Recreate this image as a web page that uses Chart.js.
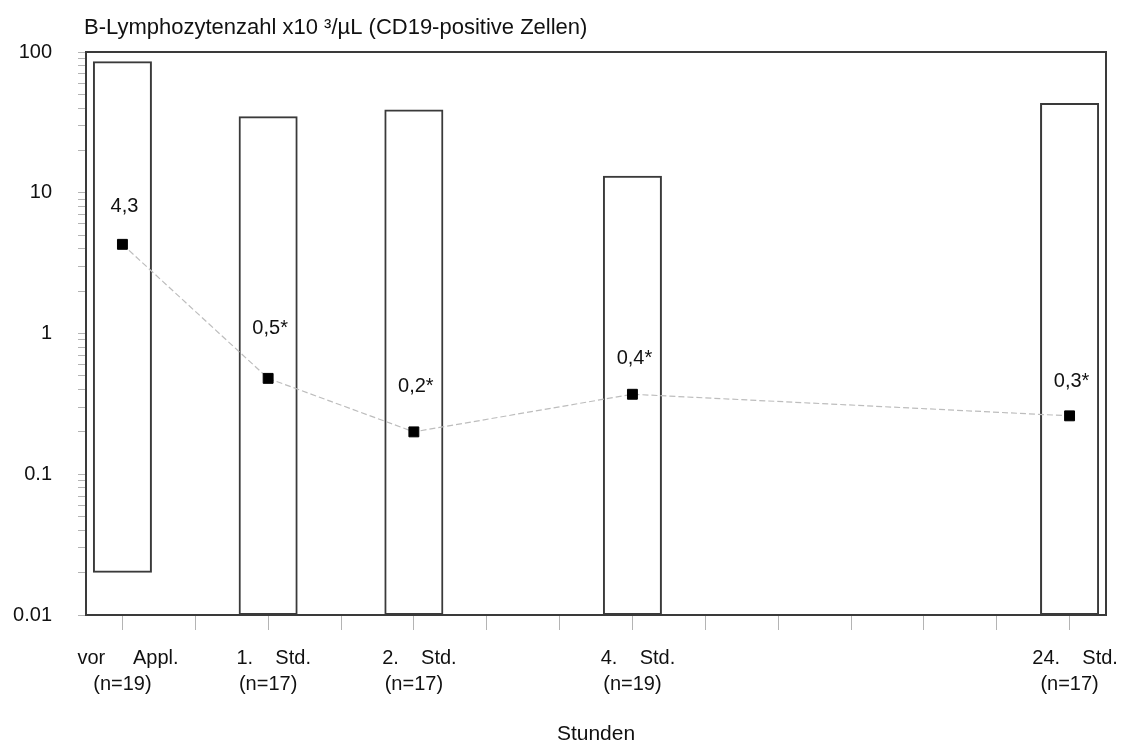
<!DOCTYPE html>
<html lang="de">
<head>
<meta charset="utf-8">
<title>B-Lymphozytenzahl</title>
<script src="https://cdn.jsdelivr.net/npm/chart.js@4.4.1/dist/chart.umd.min.js"></script>
<style>
  html, body { margin: 0; padding: 0; background: #fff; }
</style>
</head>
<body>
<canvas id="lymphChart" width="1123" height="745"></canvas>
<script>
// x slots: only a few carry a measurement time
const categories = [
  ["  vor     Appl.", "(n=19)"], "", ["  1.    Std.", "(n=17)"], "", ["  2.    Std.", "(n=17)"], "", "",
  ["  4.    Std.", "(n=19)"], "", "", "", "", "", ["  24.    Std.", "(n=17)"]
];
// range bars (min / max)
const rangeMin = [0.02, null, 0.01, null, 0.01, null, null, 0.01, null, null, null, null, null, 0.01];
const rangeMax = [86, null, 35, null, 39, null, null, 13.2, null, null, null, null, null, 43.5];
// median points + their printed labels
const medians = [4.3, null, 0.48, null, 0.2, null, null, 0.37, null, null, null, null, null, 0.26];
const medianLabels = ["4,3", "", "0,5*", "", "0,2*", "", "", "0,4*", "", "", "", "", "", "0,3*"];
const yMajorTicks = [0.01, 0.1, 1, 10, 100];

const FONT = "'Liberation Sans', Arial, sans-serif";
Chart.defaults.font.family = FONT;
Chart.defaults.color = "#111";

const frame = {
  id: "frame",
  afterDatasetsDraw(chart) {
    const { ctx, chartArea: a } = chart;
    ctx.save();
    ctx.strokeStyle = "#3a3a3a";
    ctx.lineWidth = 2;
    ctx.strokeRect(a.left, a.top, a.right - a.left, a.bottom - a.top);
    ctx.restore();
  }
};

const headline = {
  id: "headline",
  afterDraw(chart) {
    const ctx = chart.ctx;
    ctx.save();
    ctx.font = "22px " + FONT;
    ctx.fillStyle = "#111";
    ctx.textAlign = "left";
    ctx.textBaseline = "middle";
    ctx.fillText("B-Lymphozytenzahl x10 \u00B3/\u00B5L (CD19-positive Zellen)", 84, 28);
    ctx.restore();
  }
};

const pointLabels = {
  id: "pointLabels",
  afterDatasetsDraw(chart, args, opts) {
    const ctx = chart.ctx;
    const meta = chart.getDatasetMeta(1);
    ctx.save();
    ctx.font = "20px " + FONT;
    ctx.fillStyle = "#111";
    ctx.textAlign = "center";
    ctx.textBaseline = "middle";
    meta.data.forEach((pt, i) => {
      if (medians[i] === null) return;
      ctx.fillText(medianLabels[i], pt.x + 2, pt.y - opts.lift[i]);
    });
    ctx.restore();
  }
};

function buildLogTicks(scale) {
  const ticks = [];
  for (let d = 0; d < yMajorTicks.length - 1; d++) {
    for (let k = 1; k <= 9; k++) {
      ticks.push({ value: +(k * yMajorTicks[d]).toPrecision(3) });
    }
  }
  ticks.push({ value: yMajorTicks[yMajorTicks.length - 1] });
  scale.ticks = ticks;
}

new Chart(document.getElementById("lymphChart"), {
  data: {
    labels: categories,
    datasets: [
      {
        type: "bar",
        order: 1,
        data: rangeMin.map((lo, i) => lo === null ? null : [lo, rangeMax[i]]),
        backgroundColor: "rgba(255,255,255,0)",
        borderColor: "#3a3a3a",
        borderWidth: 2,
        borderSkipped: false,
        barPercentage: 0.81,
        categoryPercentage: 1
      },
      {
        type: "line",
        order: 0,
        data: medians,
        spanGaps: true,
        borderColor: "#bdbdbd",
        borderWidth: 1.2,
        borderDash: [6, 3],
        pointStyle: "rect",
        pointRadius: 7,
        pointBackgroundColor: "#000",
        pointBorderColor: "#000",
        pointBorderWidth: 1
      }
    ]
  },
  options: {
    responsive: false,
    animation: false,
    layout: { padding: { top: 52, right: 17, bottom: 0, left: 0 } },
    plugins: {
      legend: { display: false },
      tooltip: { enabled: false },
      pointLabels: { lift: [38, 0, 50, 0, 45, 0, 0, 36, 0, 0, 0, 0, 0, 34] }
    },
    scales: {
      x: {
        offset: true,
        afterFit: s => { s.height = 130; s.paddingLeft = 0; s.paddingRight = 0; },
        grid: { drawOnChartArea: false, drawTicks: true, tickLength: 15, color: "#b4b4b4", offset: false },
        border: { display: false },
        ticks: { autoSkip: false, maxRotation: 0, padding: 15, font: { size: 20, lineHeight: 1.3 }, color: "#111" },
        title: { display: true, text: "Stunden", font: { size: 21, lineHeight: 1 }, padding: { top: 0, bottom: 0 }, color: "#111" }
      },
      y: {
        type: "logarithmic",
        min: 0.01,
        max: 100,
        afterFit: s => { s.width = 86; },
        afterBuildTicks: buildLogTicks,
        grid: { drawOnChartArea: false, drawTicks: true, tickLength: 8, color: "#b4b4b4" },
        border: { display: false },
        ticks: {
          autoSkip: false,
          padding: 26,
          font: { size: 20 },
          color: "#111",
          callback: v => yMajorTicks.includes(v) ? String(v) : ""
        }
      }
    }
  },
  plugins: [frame, headline, pointLabels]
});
</script>
</body>
</html>
